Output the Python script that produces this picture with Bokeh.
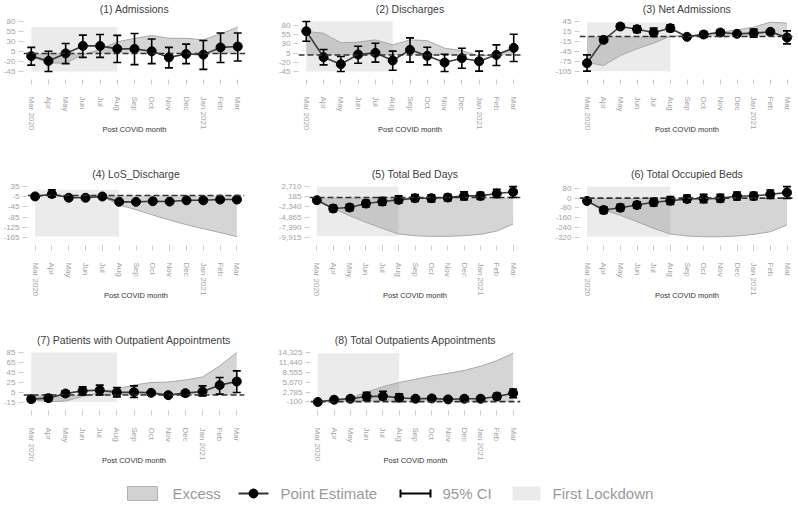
import numpy as np
from bokeh.plotting import figure
from bokeh.layouts import column, row
from bokeh.models import (FixedTicker, Span, Whisker, TeeHead, ColumnDataSource,
                          NumeralTickFormatter, Range1d)
from bokeh.embed import file_html
from bokeh.resources import INLINE
from bokeh.core.properties import value

# ---------------- data ----------------
months = ["Mar 2020", "Apr", "May", "Jun", "Jul", "Aug", "Sep", "Oct", "Nov",
          "Dec", "Jan 2021", "Feb", "Mar"]
lockdown_first = 0   # index of Mar 2020
lockdown_last = 5    # index of Aug

adm_est = [-6.6, -18.6, 0.2, 19, 19, 11.5, 11.5, 5.5, -9.6, -1.3, -2.8, 15.2, 17.5]
adm_lo = [-29, -45, -25.4, -9.6, -9.6, -22.4, -27.7, -25.4, -36, -25.4, -39.7, -22.4, -18.6]
adm_hi = [15.2, 5.5, 25, 46, 47.6, 45.4, 50, 36.3, 15.2, 23.5, 32.6, 51.4, 51.4]
adm_exc = [-6.6, -24, -24, -3, 10, 29, 38, 45, 38, 38, 34, 49, 66]
adm_ticks = [-45, -20, 5, 30, 55, 80]

dis_est = [64.6, -6, -25, 1.2, 5.7, -15, 13.9, -2.4, -20.5, -8.8, -17, 0.3, 19.3]
dis_lo = [37.4, -27, -45, -22.4, -19.6, -41.4, -19.6, -27, -45, -36, -44, -28.7, -17.8]
dis_hi = [91, 14.8, -4.2, 23.8, 32, 10.3, 46.5, 21, 2, 18.4, 10.3, 27.5, 56.4]
dis_exc = [64, 59, 33, 35, 41, 27.5, 41, 39, 18.4, 12, -3, 0, 15]
dis_ticks = [-45, -20, 5, 30, 55, 80]

net_est = [-80, -10, 30, 22, 12, 25, -1, 6, 12, 8, 10, 14, -3]
net_lo = [-104, -17, 23, 12, 0, 15, -7, -2, 5, 2, -2, 8, -22]
net_hi = [-55, -2, 38, 32, 25, 35, 5, 15, 20, 13, 22, 20, 17]
net_exc = [-78, -87, -57, -37, -20, 1, 2, 8, 13, 20, 28, 43, 40]
net_ticks = [-105, -75, -45, -15, 15, 45]

los_est = [-3.75, 6, -9, -9, -4, -25, -25, -22.5, -24, -19, -19, -16, -16]
los_lo = [-7, -6, -13, -13, -8, -29, -29, -26.5, -28, -23, -23, -20, -20]
los_hi = [0, 22.5, -5, -5, 0, -21, -21, -18.5, -20, -15, -15, -12, -12]
los_exc = [-4, 3, -6, -8, -5, -37, -56, -77, -97, -115, -131, -146, -162]
los_ticks = [-165, -125, -85, -45, -5, 35]

bed_est = [-672, -2735, -2488, -1498, -1003, -590, -178, -178, -13, 400, 400, 978, 1390]
bed_lo = [-1000, -3560, -3313, -2323, -1910, -1415, -1003, -1085, -838, -590, -508, -13, -13]
bed_hi = [-340, -1910, -1663, -672, -13, 400, 730, 648, 813, 1390, 1308, 2050, 2710]
bed_exc = [-672, -2735, -4530, -6180, -7670, -9090, -9500, -9660, -9660, -9500, -9170, -8350, -6600]
bed_ticks = [-9915, -7390, -4865, -2340, 185, 2710]

occ_est = [-23, -97, -78, -56, -34, -21, -7, -4, -2, 17, 17, 31, 45]
occ_lo = [-33, -124, -105, -83, -64, -51, -34, -37, -32, -15, -13, -2, -2]
occ_hi = [-13, -70, -51, -29, -2, 12, 26, 31, 31, 50, 47, 66, 94]
occ_exc = [-23, -97, -140, -192, -247, -293, -309, -315, -315, -309, -296, -274, -219]
occ_ticks = [-320, -240, -160, -80, 0, 80]

pat_est = [-8.3, -6.3, 3, 8.3, 9.7, 5, 5.7, 4.3, -0.3, 3.7, 7, 19.7, 27]
pat_lo = [-13, -11.7, -2.3, 0.3, 0.3, -3.7, -5, -0.3, -3.7, -1.7, -1.7, 1.7, 5]
pat_hi = [-3, 0.3, 8.3, 16.3, 19.7, 15, 18.3, 8.3, 3, 8.3, 18.3, 35, 48.3]
pat_exc = [-8, -14, -12, -3, 5, 12, 20, 25, 26, 30, 36, 58, 85]
pat_ticks = [-15, 5, 25, 45, 65, 85]

opa_est = [-100, 565, 850, 1510, 1610, 1135, 850, 945, 660, 850, 850, 1510, 2460]
opa_lo = [-250, 375, 375, 375, 565, 375, 185, 375, 185, 375, 375, 660, 1135]
opa_hi = [50, 755, 1510, 2747, 3030, 2270, 1510, 1610, 1135, 1510, 1510, 2460, 3700]
opa_exc = [-100, 565, 1135, 2747, 4360, 5600, 6545, 7500, 8250, 9100, 10340, 11950, 14135]
opa_ticks = [-100, 2785, 5670, 8555, 11440, 14325]

legend_labels = ["Excess", "Point Estimate", "95% CI", "First Lockdown"]

# ---------------- style ----------------
FONT = "Liberation Sans"
TICK_COLOR = "#a3a3a3"
TICKMARK_COLOR = "#cccccc"
LOCK_FILL = "#ebebeb"
EXC_FILL = "#808080"
EXC_ALPHA = 0.33
EXC_LINE = "#a8a8a8"

COL_W = [270, 280, 246]
ROWS = [dict(height=165, mbt=14, mbb=86),
        dict(height=166, mbt=14, mbb=86),
        dict(height=147, mbt=14, mbb=68)]
# (min_border_left, min_border_right) per panel
BORDERS = {1: (21, 25), 2: (28, 29), 3: (29, 2),
           4: (26, 26), 5: (39, 30), 6: (29, 2),
           7: (21, 26), 8: (40, 30)}


def panel(num, title, est, lo, hi, exc, ticks, col, rw):
    r = ROWS[rw]
    mbl, mbr = BORDERS[num]
    x = list(range(len(months)))
    allv = list(est) + list(lo) + list(hi) + list(exc)
    dmin, dmax = min(allv), max(allv)
    rmin, rmax = min(dmin, ticks[0]), max(dmax, ticks[-1])
    span_r = rmax - rmin
    p = figure(width=COL_W[col], height=r["height"],
               x_range=Range1d(-0.45, len(months) - 0.55),
               y_range=Range1d(rmin - 0.16 * span_r, rmax + 0.12 * span_r),
               toolbar_location=None, output_backend="svg",
               min_border_left=mbl, min_border_right=mbr,
               min_border_top=r["mbt"], min_border_bottom=r["mbb"])
    p.title.text = title
    p.title.align = "center"
    p.title.text_font = FONT
    p.title.text_font_size = "10.5px"
    p.title.text_font_style = "normal"
    p.title.text_color = "#404040"
    p.title.standoff = 1
    p.xgrid.visible = False
    p.ygrid.visible = False
    p.outline_line_color = None
    p.background_fill_color = "white"
    p.border_fill_color = "white"

    # lockdown box
    lk = p.quad(left=[x[lockdown_first]], right=[x[lockdown_last]],
                bottom=[dmin], top=[dmax], fill_color=LOCK_FILL, line_color=None)
    lk.level = "image"

    src = ColumnDataSource(dict(x=x, est=est, lo=lo, hi=hi, exc=exc,
                                zero=[0] * len(x)))
    va = p.varea(x="x", y1="zero", y2="exc", source=src,
                 fill_color=EXC_FILL, fill_alpha=EXC_ALPHA)
    va.level = "underlay"
    el = p.line(x="x", y="exc", source=src, line_color=EXC_LINE, line_width=1)
    el.level = "underlay"

    span = Span(location=0, dimension="width", line_color="#333333",
                line_width=1.6, line_dash="6 3")
    span.level = "glyph"
    p.add_layout(span)

    p.line(x="x", y="est", source=src, line_color="#3a3a3a", line_width=1.6)
    w = Whisker(source=src, base="x", upper="hi", lower="lo", dimension="height",
                line_color="black", line_width=1.6,
                upper_head=TeeHead(size=8, line_color="black", line_width=1.6),
                lower_head=TeeHead(size=8, line_color="black", line_width=1.6))
    w.level = "annotation"
    p.add_layout(w)
    p.scatter(x="x", y="est", source=src, size=9, color="black")

    # axes
    for ax in (p.xaxis[0], p.yaxis[0]):
        ax.axis_line_color = None
        ax.major_tick_line_color = TICKMARK_COLOR
        ax.major_tick_out = 5
        ax.major_tick_in = 0
        ax.minor_tick_line_color = None
        ax.major_label_text_font = FONT
        ax.major_label_text_font_size = "8px"
        ax.major_label_text_color = TICK_COLOR
        ax.major_label_standoff = 3
    p.xaxis.ticker = FixedTicker(ticks=x)
    p.xaxis.major_label_overrides = {i: m for i, m in zip(x, months)}
    p.xaxis.major_label_orientation = "vertical"
    p.xaxis.major_label_standoff = 12
    p.xaxis.axis_label = "Post COVID month"
    p.xaxis.axis_label_text_font = FONT
    p.xaxis.axis_label_text_font_size = "7.5px"
    p.xaxis.axis_label_text_font_style = "normal"
    p.xaxis.axis_label_text_color = "#333333"
    p.xaxis.axis_label_standoff = -8
    p.yaxis.ticker = FixedTicker(ticks=ticks)
    p.yaxis.formatter = NumeralTickFormatter(format="0,0")
    return p


p1 = panel(1, "(1) Admissions", adm_est, adm_lo, adm_hi, adm_exc, adm_ticks, 0, 0)
p2 = panel(2, "(2) Discharges", dis_est, dis_lo, dis_hi, dis_exc, dis_ticks, 1, 0)
p3 = panel(3, "(3) Net Admissions", net_est, net_lo, net_hi, net_exc, net_ticks, 2, 0)
p4 = panel(4, "(4) LoS_Discharge", los_est, los_lo, los_hi, los_exc, los_ticks, 0, 1)
p5 = panel(5, "(5) Total Bed Days", bed_est, bed_lo, bed_hi, bed_exc, bed_ticks, 1, 1)
p6 = panel(6, "(6) Total Occupied Beds", occ_est, occ_lo, occ_hi, occ_exc, occ_ticks, 2, 1)
p7 = panel(7, "(7) Patients with Outpatient Appointments", pat_est, pat_lo, pat_hi, pat_exc, pat_ticks, 0, 2)
p8 = panel(8, "(8) Total Outpatients Appointments", opa_est, opa_lo, opa_hi, opa_exc, opa_ticks, 1, 2)

# ---------------- legend ----------------
leg = figure(width=796, height=30, x_range=Range1d(0, 796), y_range=Range1d(0, 30),
             toolbar_location=None, output_backend="svg", min_border=0)
leg.axis.visible = False
leg.xgrid.visible = False
leg.ygrid.visible = False
leg.outline_line_color = None
yc = 15
LEG_TXT = dict(text_font=value(FONT), text_font_size="15px", text_color="#9a9a9a",
               text_baseline="middle", text_align="left")
# Excess
leg.quad(left=[127], right=[157], bottom=[yc - 7], top=[yc + 7],
         fill_color="#d2d2d2", line_color="#b0b0b0", line_width=1)
leg.text(x=[172], y=[yc], text=[legend_labels[0]], **LEG_TXT)
# Point estimate
leg.line(x=[238, 268], y=[yc, yc], line_color="#333333", line_width=2)
leg.scatter(x=[253], y=[yc], size=9, color="black")
leg.text(x=[280], y=[yc], text=[legend_labels[1]], **LEG_TXT)
# 95% CI
leg.segment(x0=[400], y0=[yc], x1=[430], y1=[yc], line_color="black", line_width=2)
leg.segment(x0=[400, 430], y0=[yc - 4, yc - 4], x1=[400, 430], y1=[yc + 4, yc + 4],
            line_color="black", line_width=2)
leg.text(x=[442], y=[yc], text=[legend_labels[2]], **LEG_TXT)
# First lockdown
leg.quad(left=[512], right=[540], bottom=[yc - 7], top=[yc + 7],
         fill_color=LOCK_FILL, line_color=None)
leg.text(x=[552], y=[yc], text=[legend_labels[3]], **LEG_TXT)

layout = column(row(p1, p2, p3), row(p4, p5, p6), row(p7, p8), leg)

open("out.html", "w").write(file_html(layout, INLINE))
